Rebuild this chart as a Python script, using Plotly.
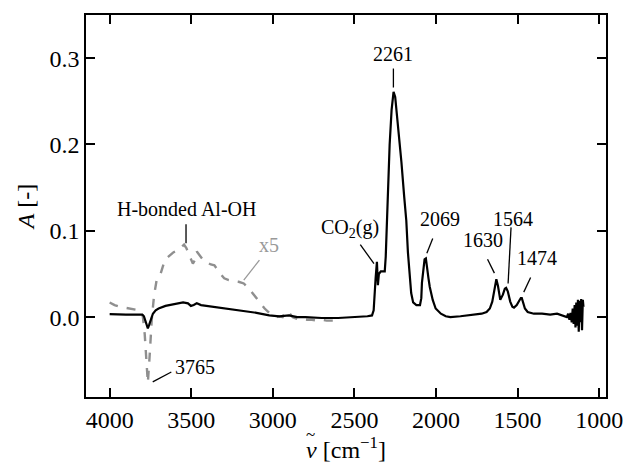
import plotly.graph_objects as go

# Black solid spectrum
wn_main = [4000, 3950, 3900, 3850, 3800, 3790, 3780, 3772, 3766, 3758, 3748, 3735, 3718, 3700,
           3658, 3600, 3550, 3520, 3502, 3485, 3466, 3440, 3400, 3358, 3300, 3250, 3160, 3100,
           3022, 2960, 2902, 2850, 2800, 2700, 2600, 2500, 2420, 2392, 2382, 2370, 2362, 2356,
           2350, 2338, 2325, 2314, 2308, 2302, 2293, 2284, 2272, 2260, 2250, 2240, 2230, 2212,
           2195, 2182, 2172, 2164, 2152, 2140, 2120, 2098, 2090, 2086, 2078, 2070, 2062, 2055,
           2046, 2038, 2020, 2002, 1970, 1940, 1912, 1850, 1800, 1760, 1720, 1690, 1670, 1655,
           1642, 1630, 1620, 1606, 1590, 1578, 1570, 1560, 1545, 1532, 1522, 1505, 1490, 1480,
           1474, 1465, 1455, 1438, 1400, 1350, 1300, 1258, 1230, 1198, 1190, 1182, 1175, 1168,
           1162, 1156, 1150, 1145, 1140, 1135, 1130, 1125, 1120, 1115, 1110, 1105, 1100, 1096]
a_main = [0.0035, 0.003, 0.003, 0.003, 0.003, 0.001, -0.004, -0.01, -0.013, -0.009, -0.002,
          0.004, 0.008, 0.01, 0.013, 0.015, 0.017, 0.016, 0.013, 0.014, 0.016, 0.014, 0.013,
          0.012, 0.01, 0.009, 0.007, 0.005, 0.002, 0.001, 0.002, 0.0, 0.0, -0.001, -0.001,
          0.0, 0.001, 0.002, 0.008, 0.045, 0.064, 0.037, 0.05, 0.053, 0.053, 0.053, 0.07,
          0.104, 0.15, 0.2, 0.24, 0.261, 0.255, 0.235, 0.22, 0.18, 0.14, 0.112, 0.075, 0.051,
          0.028, 0.017, 0.014, 0.014, 0.022, 0.04, 0.058, 0.067, 0.068, 0.06, 0.045, 0.035,
          0.02, 0.01, 0.004, 0.001, 0.0, 0.001, 0.002, 0.003, 0.004, 0.006, 0.01, 0.018,
          0.034, 0.044, 0.036, 0.02, 0.026, 0.033, 0.034, 0.03, 0.018, 0.012, 0.011, 0.014,
          0.019, 0.022, 0.022, 0.016, 0.01, 0.006, 0.004, 0.004, 0.003, 0.004, 0.002, 0.0,
          0.004, -0.003, 0.005, -0.006, 0.01, -0.008, 0.014, -0.012, 0.017, -0.01, 0.02,
          -0.017, 0.019, -0.006, 0.021, -0.015, 0.02, 0.012, 0.018]

# Gray dashed x5 spectrum
wn_x5 = [4000, 3970, 3940, 3910, 3880, 3850, 3820, 3805, 3796, 3785, 3775, 3766, 3755, 3742,
         3728, 3712, 3700, 3688, 3672, 3658, 3640, 3625, 3610, 3590, 3570, 3555, 3544, 3530,
         3515, 3508, 3490, 3478, 3466, 3450, 3435, 3418, 3400, 3380, 3358, 3340, 3320, 3298,
         3270, 3240, 3210, 3178, 3150, 3125, 3100, 3075, 3050, 3022, 3000, 2980, 2960, 2940,
         2920, 2900, 2878, 2850, 2820, 2790, 2760, 2730, 2700, 2670, 2640, 2602]
a_x5 = [0.017, 0.014, 0.012, 0.011, 0.01, 0.009, 0.008, 0.006, 0.0, -0.02, -0.05, -0.076,
        -0.045, -0.003, 0.025, 0.043, 0.046, 0.05, 0.06, 0.067, 0.07, 0.073, 0.075, 0.077,
        0.079, 0.082, 0.084, 0.08, 0.072, 0.07, 0.062, 0.066, 0.076, 0.072, 0.068, 0.064,
        0.063, 0.061, 0.06, 0.055, 0.05, 0.045, 0.043, 0.042, 0.041, 0.039, 0.034, 0.028,
        0.022, 0.016, 0.01, 0.005, 0.002, 0.0, 0.001, 0.0, 0.007, 0.005, 0.0, -0.002,
        -0.002, -0.003, -0.003, -0.004, -0.003, -0.004, -0.004, -0.004]

# Annotations: (text, text_x, text_y, line_x0, line_y0, line_x1, line_y1, color)
labels = [
    ("H-bonded Al-OH", 3532, 0.125, 3532, 0.1075, 3532, 0.0855, "black"),
    ("x5", 3022, 0.083, 3082, 0.066, 3178, 0.043, "#999999"),
    ("3765", 3478, -0.058, 3622, -0.0636, 3736, -0.075, "black"),
    ("2261", 2266, 0.305, 2261, 0.288, 2261, 0.266, "black"),
    ("CO<sub>2</sub>(g)", 2530, 0.103, 2464, 0.084, 2380, 0.062, "black"),
    ("2069", 1978, 0.114, 2020, 0.091, 2056, 0.074, "black"),
    ("1630", 1714, 0.089, 1684, 0.067, 1642, 0.051, "black"),
    ("1564", 1528, 0.114, 1540, 0.104, 1558, 0.039, "black"),
    ("1474", 1378, 0.068, 1420, 0.046, 1462, 0.029, "black"),
]

x_ticks = [4000, 3500, 3000, 2500, 2000, 1500, 1000]
y_ticks = [0.0, 0.1, 0.2, 0.3]

SERIF = "Liberation Serif"

fig = go.Figure()
fig.add_trace(go.Scatter(x=wn_x5, y=a_x5, mode="lines",
                         line=dict(color="#8f8f8f", width=2.4, dash="dash")))
fig.add_trace(go.Scatter(x=wn_main, y=a_main, mode="lines",
                         line=dict(color="black", width=2.2)))

for text, tx, ty, x0, y0, x1, y1, col in labels:
    fig.add_annotation(x=tx, y=ty, text=text, showarrow=False,
                       font=dict(family=SERIF, size=20, color=col))
    fig.add_shape(type="line", x0=x0, y0=y0, x1=x1, y1=y1,
                  line=dict(color=col, width=1.3))

# tilde accent over the nu in the x-axis title
fig.add_annotation(xref="paper", yref="paper", x=0.431, y=-0.128, text="~",
                   showarrow=False, font=dict(family=SERIF, size=17, color="black"))

axis_common = dict(showline=True, linecolor="black", linewidth=1.5, mirror="ticks",
                   ticks="inside", ticklen=9, tickwidth=1.5, tickcolor="black",
                   showgrid=False, zeroline=False,
                   tickfont=dict(family=SERIF, size=24, color="black"))

fig.update_layout(
    width=635, height=465,
    margin=dict(l=86, r=18, t=15, b=68),
    paper_bgcolor="white", plot_bgcolor="white",
    showlegend=False,
    xaxis=dict(range=[4145, 958], tickvals=x_ticks,
               title=dict(text="<i>ν</i> [cm<sup>−1</sup>]", standoff=4,
                          font=dict(family=SERIF, size=24, color="black")),
               **axis_common),
    yaxis=dict(range=[-0.0925, 0.35], tickvals=y_ticks, tickformat=".1f",
               title=dict(text="<i>A</i> [-]", standoff=8,
                          font=dict(family=SERIF, size=24, color="black")),
               **axis_common),
)

fig.write_html("out.html")
